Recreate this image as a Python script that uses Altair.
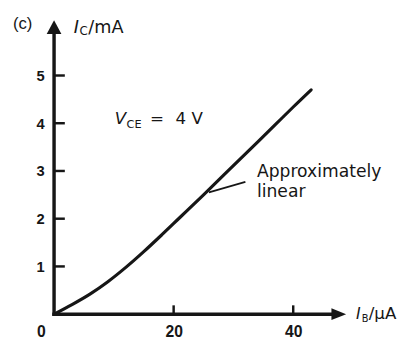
import altair as alt
import pandas as pd

# ---- data ----
ib_uA = [0, 3, 6, 9, 12, 15, 18, 21, 25, 29, 33, 37, 40, 43]
ic_mA = [0, 0.20, 0.42, 0.68, 0.98, 1.31, 1.66, 2.02, 2.50, 2.99, 3.48, 3.97, 4.34, 4.70]
x_ticks = [20, 40]
y_ticks = [1, 2, 3, 4, 5]

# ---- layout constants ----
XMAX = 48.85
YMAX = 6.16
INK = "#161616"
DIGIT_FONT = "Liberation Sans"
TEXT_FONT = "DejaVu Sans"

xs = alt.Scale(domain=[0, XMAX], nice=False, zero=False)
ys = alt.Scale(domain=[0, YMAX], nice=False, zero=False)

x_axis = alt.Axis(values=x_ticks, domain=False, ticks=False, tickSize=0, grid=False,
                  labelFont=DIGIT_FONT, labelFontSize=16, labelFontWeight="bold",
                  labelColor=INK, labelPadding=10, title=None)
y_axis = alt.Axis(values=y_ticks, domain=False, ticks=False, tickSize=0, grid=False,
                  labelFont=DIGIT_FONT, labelFontSize=15, labelFontWeight="bold",
                  labelColor=INK, labelPadding=10, title=None)


def X(field):
    return alt.X(field, scale=xs, axis=x_axis)


def Y(field):
    return alt.Y(field, scale=ys, axis=y_axis)


curve_df = pd.DataFrame({"x": ib_uA, "y": ic_mA})

axes_df = pd.DataFrame({
    "x": [0, 0], "x2": [0, XMAX - 1.8],
    "y": [0, 0], "y2": [YMAX - 0.22, 0],
})
ticks_df = pd.DataFrame(
    [{"x": 0, "x2": 1.8, "y": v, "y2": v} for v in y_ticks]
    + [{"x": v, "x2": v, "y": 0, "y2": 0.185} for v in x_ticks]
)
leader_df = pd.DataFrame({"x": [25.9], "x2": [32.0], "y": [2.55], "y2": [2.77]})

curve = alt.Chart(curve_df).mark_line(
    color=INK, strokeWidth=3.2, interpolate="monotone", strokeCap="round"
).encode(x=X("x:Q"), y=Y("y:Q"))

axes = alt.Chart(axes_df).mark_rule(color=INK, strokeWidth=3.5, strokeCap="square").encode(
    x=X("x:Q"), x2="x2:Q", y=Y("y:Q"), y2="y2:Q",
)

ticks = alt.Chart(ticks_df).mark_rule(color=INK, strokeWidth=2.5).encode(
    x=X("x:Q"), x2="x2:Q", y=Y("y:Q"), y2="y2:Q",
)

leader = alt.Chart(leader_df).mark_rule(color=INK, strokeWidth=1.8).encode(
    x=X("x:Q"), x2="x2:Q", y=Y("y:Q"), y2="y2:Q",
)

arrow_up = alt.Chart(pd.DataFrame({"x": [0], "y": [YMAX]})).mark_point(
    shape="M0,0L-1,1.87L1,1.87Z", size=225, filled=True, opacity=1, color=INK
).encode(x=X("x:Q"), y=Y("y:Q"))

arrow_right = alt.Chart(pd.DataFrame({"x": [XMAX], "y": [0]})).mark_point(
    shape="M0,0L-2,-0.8L-2,0.8Z", size=225, filled=True, opacity=1, color=INK
).encode(x=X("x:Q"), y=Y("y:Q"))

origin_label = alt.Chart(pd.DataFrame({"x": [0], "y": [0], "t": ["0"]})).mark_text(
    font=DIGIT_FONT, fontSize=16, fontWeight="bold", color=INK,
    align="center", baseline="top", dx=-13, dy=10
).encode(x=X("x:Q"), y=Y("y:Q"), text="t:N")


def label(text, px, py, size, font=TEXT_FONT, style="normal", weight="normal", align="left"):
    return alt.Chart(pd.DataFrame({"t": [text]})).mark_text(
        font=font, fontSize=size, fontStyle=style, fontWeight=weight, color=INK,
        align=align, baseline="alphabetic"
    ).encode(x=alt.value(px), y=alt.value(py), text="t:N")


texts = [
    label("(c)", -42, 9, 17, font=DIGIT_FONT),
    label("I", 20, 13, 18, style="italic"),
    label("C", 26, 15, 12),
    label("/mA", 35, 13, 18),
    label("V", 62, 106, 17, style="italic"),
    label("CE", 74, 110, 11.5),
    label("=", 98, 106, 17),
    label("4 V", 124, 106, 17),
    label("Approximately", 207, 160, 17.5),
    label("linear", 207, 180, 17.5),
    label("I", 308, 305, 16, style="italic"),
    label("B", 314, 308, 10),
    label("/\u03bcA", 321, 305, 17),
]

chart = alt.layer(curve, axes, ticks, leader, arrow_up, arrow_right, origin_label, *texts).properties(
    width=298, height=300,
    autosize=alt.AutoSizeParams(type="none"),
    padding={"left": 47, "top": 9, "right": 57, "bottom": 24},
    background="white",
).configure_view(stroke=None)

chart.save("out.html", embed_options={"renderer": "svg", "actions": False})
